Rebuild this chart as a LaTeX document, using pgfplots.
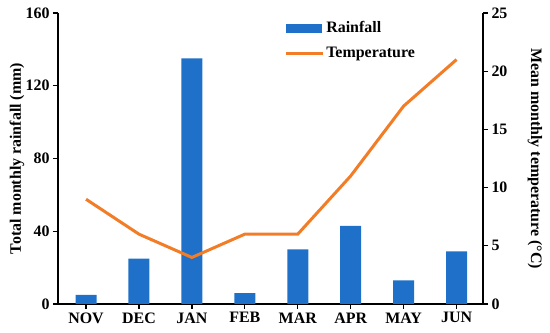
\documentclass[border=0pt]{standalone}
\usepackage{fontspec}
\setmainfont{Liberation Serif}
\usepackage{pgfplots}
\pgfplotsset{compat=1.18}
\definecolor{rainblue}{RGB}{30,112,200}
\definecolor{temporange}{RGB}{242,125,38}
\begin{document}
\begin{tikzpicture}[font=\fontsize{16}{18}\selectfont\bfseries]
\pgfplotsset{every axis/.append style={scale only axis, width=425bp, height=291bp,
  xmin=-0.53, xmax=7.5, /pgf/number format/assume math mode=true,
  tick align=outside, major tick length=5bp,
  axis line style={line width=1.8bp, -}, tick style={line width=1.2bp, black},
  label style={font=\fontsize{16}{18}\selectfont\bfseries},
  ticklabel style={font=\fontsize{16}{18}\selectfont\bfseries}}}
\begin{axis}[name=a,
  axis x line*=bottom, axis y line*=left,
  ymin=0, ymax=160, ytick={0,40,...,160},
  xtick={0,...,7}, xticklabels={NOV,DEC,JAN,FEB,MAR,APR,MAY,JUN},
  ylabel={Total monthly rainfall (mm)},
  ylabel style={at={(axis description cs:-0.0965,0.5)}, anchor=center},
]
\addplot[ybar, bar width=21bp, fill=rainblue, draw=none] coordinates {
(0,5) (1,25) (2,135) (3,6) (4,30) (5,43) (6,13) (7,29)};
\end{axis}
\begin{axis}[
  axis x line=none, axis y line*=right,
  ymin=0, ymax=25, ytick={0,5,...,25},
  ylabel={Mean monthly temperature (\textdegree C)},
  ylabel style={at={(axis description cs:1.122,0.5)}, anchor=center, rotate=180},
  legend style={draw=none, fill=none, at={(0.525,0.985)}, anchor=north west,
    font=\fontsize{16}{18}\selectfont\bfseries, row sep=9bp},
  legend cell align=left,
]
\addlegendimage{legend image code/.code={\fill[rainblue] (0bp,-4bp) rectangle (35bp,4bp);}}
\addlegendentry{Rainfall}
\addplot[temporange, line width=3bp, legend image code/.code={\draw[temporange, line width=3bp] (0bp,0bp) -- (37bp,0bp);}] coordinates {
(0,9) (1,6) (2,4) (3,6) (4,6) (5,11) (6,17) (7,21)};
\addlegendentry{Temperature}
\end{axis}
\pgfresetboundingbox
\path[use as bounding box] ([shift={(-58bp,-29bp)}]a.south west) rectangle ([shift={(67bp,13bp)}]a.north east);
\end{tikzpicture}
\end{document}
